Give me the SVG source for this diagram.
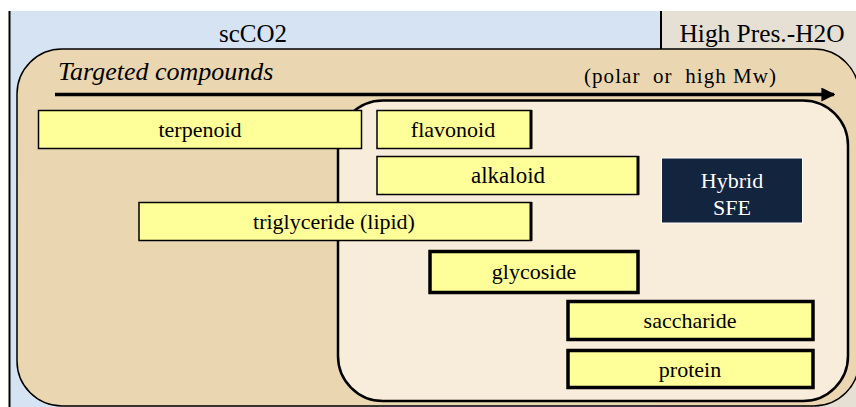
<svg xmlns="http://www.w3.org/2000/svg" width="856" height="407" viewBox="0 0 856 407">
<defs>
<style>
text{font-family:"Liberation Serif","Times New Roman",serif;fill:#000;}
.box{fill:#ffff99;stroke:#000;}
.thin{stroke-width:1.5;}
.thick{stroke-width:3.5;}
.t22{font-size:22px;text-anchor:middle;}
.wt{fill:#ffffff;font-size:22px;text-anchor:middle;}
</style>
<marker id="ah" viewBox="0 0 10 10" refX="9" refY="5" markerWidth="4" markerHeight="4" orient="auto" markerUnits="strokeWidth">
<path d="M0,0 L10,5 L0,10 z" fill="#000"/>
</marker>
</defs>
<!-- background -->
<rect x="0" y="0" width="856" height="407" fill="#ffffff"/>
<rect x="10" y="11" width="652" height="396" fill="#d5e3f3"/>
<rect x="662" y="11" width="194" height="396" fill="#e6dfd3"/>
<line x1="9.5" y1="11" x2="9.5" y2="407" stroke="#000" stroke-width="2"/>
<line x1="661" y1="11" x2="661" y2="49" stroke="#000" stroke-width="2"/>
<text x="253" y="42" font-size="25" text-anchor="middle">scCO2</text>
<text x="762" y="42" font-size="25" text-anchor="middle" textLength="165" lengthAdjust="spacingAndGlyphs">High Pres.-H2O</text>
<!-- outer region -->
<g id="targeted">
<rect x="17" y="49" width="842" height="357" rx="45" ry="45" fill="#ead7b2" stroke="#000" stroke-width="1.5"/>
<text x="58" y="80" font-size="26" font-style="italic">Targeted compounds</text>
<text x="584" y="83" font-size="21" xml:space="preserve" textLength="192" lengthAdjust="spacing">(polar  or  high Mw)</text>
</g>
<!-- inner region -->
<g id="hybrid-region">
<rect x="338" y="100.5" width="510" height="300.5" rx="45" ry="45" fill="#f8eddb" stroke="#000" stroke-width="2.5"/>
</g>
<g id="connectors">
<line x1="55" y1="94.5" x2="834" y2="94.5" stroke="#000" stroke-width="3.5" marker-end="url(#ah)"/>
</g>
<g id="terpenoid">
<rect class="box thin" x="38.5" y="110.5" width="323" height="38"/>
<text class="t22" x="200" y="137">terpenoid</text>
</g>
<g id="flavonoid">
<rect class="box thin" x="377" y="110.5" width="154" height="38"/>
<line x1="531" y1="110" x2="531" y2="149" stroke="#000" stroke-width="3"/>
<text class="t22" x="453" y="137">flavonoid</text>
</g>
<g id="alkaloid">
<rect class="box thin" x="377" y="156.5" width="261" height="38"/>
<line x1="638" y1="156" x2="638" y2="195" stroke="#000" stroke-width="3"/>
<text class="t22" x="508" y="183" style="font-size:23px">alkaloid</text>
</g>
<g id="triglyceride">
<rect class="box thin" x="139" y="202.5" width="392" height="38"/>
<line x1="531" y1="202" x2="531" y2="241" stroke="#000" stroke-width="3"/>
<text class="t22" x="334" y="229">triglyceride (lipid)</text>
</g>
<g id="glycoside">
<rect class="box thick" x="430" y="251.5" width="208" height="41"/>
<text class="t22" x="534" y="279">glycoside</text>
</g>
<g id="saccharide">
<rect class="box thick" x="568" y="301.5" width="245" height="38"/>
<text class="t22" x="690" y="328">saccharide</text>
</g>
<g id="protein">
<rect class="box thick" x="568" y="350.5" width="245" height="37"/>
<text class="t22" x="690" y="377">protein</text>
</g>
<g id="hybrid-sfe">
<rect x="661.5" y="158" width="141" height="65" fill="#13243f" stroke="#ffffff" stroke-width="1"/>
<text class="wt" x="732" y="188">Hybrid</text>
<text class="wt" x="732" y="215">SFE</text>
</g>
</svg>
